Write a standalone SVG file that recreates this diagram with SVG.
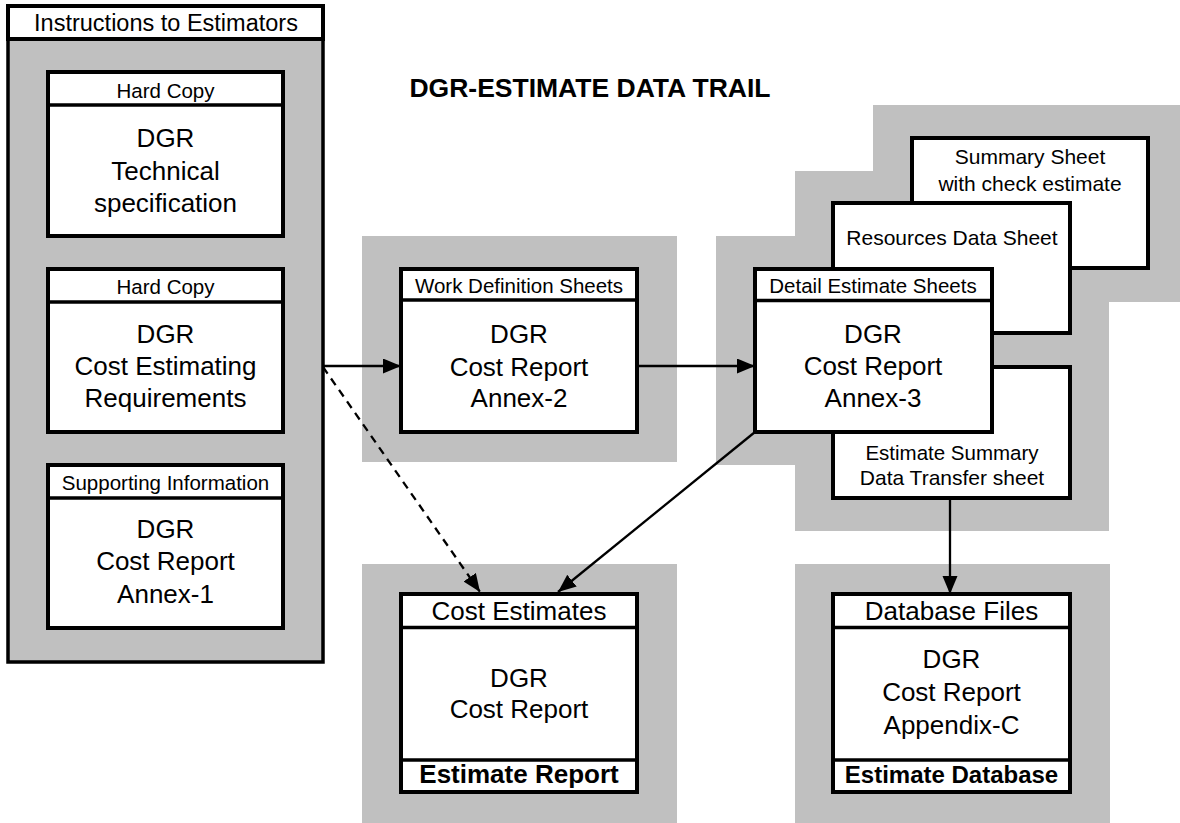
<svg xmlns="http://www.w3.org/2000/svg" width="1180" height="823" viewBox="0 0 1180 823">
<style>
text{font-family:"Liberation Sans",Arial,sans-serif;fill:#000;text-anchor:middle}
.box{fill:#fff;stroke:#000;stroke-width:4}
.sep{stroke:#000;stroke-width:3.5}
.gray{fill:#c0c0c0}
.hd{font-size:20.5px}
.bd{font-size:26px}
.b{font-weight:bold}
.conn{stroke:#000;stroke-width:2.3;fill:none}
.dash{stroke-dasharray:8 6}
</style>
<defs>
<marker id="ah" markerUnits="userSpaceOnUse" markerWidth="19" markerHeight="16" refX="18" refY="7.5" orient="auto">
<path d="M0,0 L18,7.5 L0,15 z" fill="#000"/>
</marker>
</defs>
<rect width="1180" height="823" fill="#fff"/>
<text x="590" y="97" class="b" style="font-size:26.5px">DGR-ESTIMATE DATA TRAIL</text>

<g id="instructions">
<rect x="8" y="6" width="315" height="656" class="gray" stroke="#000" stroke-width="3.5"/>
<rect x="8" y="6" width="315" height="33" class="box"/>
<text x="166" y="31" style="font-size:23.5px">Instructions to Estimators</text>
</g>

<g id="tech-spec">
<rect x="48" y="72" width="235" height="164" class="box"/>
<line x1="48" y1="105" x2="283" y2="105" class="sep"/>
<text x="165.5" y="98" class="hd">Hard Copy</text>
<text x="165.5" y="147" class="bd">DGR</text>
<text x="165.5" y="180" class="bd">Technical</text>
<text x="165.5" y="212" class="bd">specification</text>
</g>

<g id="cost-req">
<rect x="48" y="269" width="235" height="163" class="box"/>
<line x1="48" y1="302" x2="283" y2="302" class="sep"/>
<text x="165.5" y="294" class="hd">Hard Copy</text>
<text x="165.5" y="343" class="bd">DGR</text>
<text x="165.5" y="375" class="bd">Cost Estimating</text>
<text x="165.5" y="407" class="bd">Requirements</text>
</g>

<g id="annex1">
<rect x="48" y="465" width="235" height="163" class="box"/>
<line x1="48" y1="498" x2="283" y2="498" class="sep"/>
<text x="165.5" y="490" class="hd">Supporting Information</text>
<text x="165.5" y="538" class="bd">DGR</text>
<text x="165.5" y="570" class="bd">Cost Report</text>
<text x="165.5" y="603" class="bd">Annex-1</text>
</g>

<g id="annex2">
<rect x="362" y="236" width="315" height="226" class="gray"/>
<rect x="401" y="269" width="236" height="163" class="box"/>
<line x1="401" y1="300" x2="637" y2="300" class="sep"/>
<text x="519" y="293" class="hd">Work Definition Sheets</text>
<text x="519" y="343" class="bd">DGR</text>
<text x="519" y="376" class="bd">Cost Report</text>
<text x="519" y="407" class="bd">Annex-2</text>
</g>

<g id="annex3">
<polygon class="gray" points="873,105 1180,105 1180,302 1109,302 1109,531 795,531 795,465 716,465 716,236 795,236 795,171 873,171"/>
<g id="summary-sheet">
<rect x="912" y="138" width="236" height="130" class="box"/>
<text x="1030" y="164" style="font-size:21px">Summary Sheet</text>
<text x="1030" y="191" style="font-size:21px">with check estimate</text>
</g>
<g id="resources-sheet">
<rect x="833" y="203" width="237" height="130" class="box"/>
<text x="952" y="245" style="font-size:21px">Resources Data Sheet</text>
</g>
<g id="transfer-sheet">
<rect x="833" y="367" width="237" height="131" class="box"/>
<text x="952" y="460" style="font-size:20.5px">Estimate Summary</text>
<text x="952" y="485" style="font-size:21px">Data Transfer sheet</text>
</g>
<g id="detail-sheets">
<rect x="755" y="269" width="237" height="163" class="box"/>
<line x1="755" y1="300.5" x2="992" y2="300.5" class="sep"/>
<text x="873" y="293" class="hd">Detail Estimate Sheets</text>
<text x="873" y="343" class="bd">DGR</text>
<text x="873" y="375" class="bd">Cost Report</text>
<text x="873" y="407" class="bd">Annex-3</text>
</g>
</g>

<g id="estimate-report">
<rect x="362" y="564" width="315" height="259" class="gray"/>
<rect x="401" y="594" width="236" height="198" class="box"/>
<line x1="401" y1="627.5" x2="637" y2="627.5" class="sep"/>
<line x1="401" y1="760" x2="637" y2="760" class="sep"/>
<text x="519" y="620" class="bd">Cost Estimates</text>
<text x="519" y="687" class="bd">DGR</text>
<text x="519" y="718" class="bd">Cost Report</text>
<text x="519" y="783" class="bd b">Estimate Report</text>
</g>

<g id="estimate-database">
<rect x="795" y="564" width="315" height="259" class="gray"/>
<rect x="833" y="594" width="237" height="198" class="box"/>
<line x1="833" y1="627.5" x2="1070" y2="627.5" class="sep"/>
<line x1="833" y1="760" x2="1070" y2="760" class="sep"/>
<text x="951.5" y="620" class="bd">Database Files</text>
<text x="951.5" y="668" class="bd">DGR</text>
<text x="951.5" y="701" class="bd">Cost Report</text>
<text x="951.5" y="734" class="bd">Appendix-C</text>
<text x="951.5" y="783" class="b" style="font-size:24px">Estimate Database</text>
</g>

<g id="connectors">
<line x1="323" y1="366" x2="401" y2="366" class="conn" marker-end="url(#ah)"/>
<line x1="637" y1="366" x2="755" y2="366" class="conn" marker-end="url(#ah)"/>
<line x1="323" y1="367" x2="480" y2="592" class="conn dash" marker-end="url(#ah)"/>
<line x1="755" y1="432" x2="558" y2="592" class="conn" marker-end="url(#ah)"/>
<line x1="950" y1="498" x2="950" y2="594" class="conn" marker-end="url(#ah)"/>
</g>
</svg>
